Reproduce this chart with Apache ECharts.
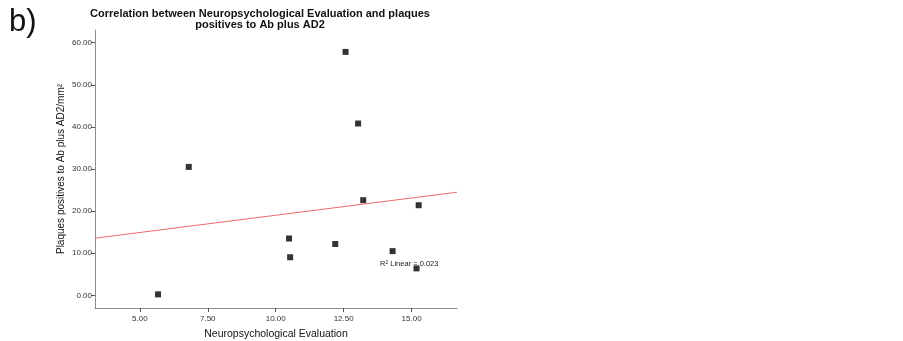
<!DOCTYPE html>
<html>
<head>
<meta charset="utf-8">
<script src="https://cdn.jsdelivr.net/npm/echarts@6/dist/echarts.min.js"></script>
<style>
  html, body { margin: 0; padding: 0; background: #fff; }
  #chart { width: 903px; height: 341px; }
</style>
</head>
<body>
<div id="chart"></div>
<script>
// neuropsychological evaluation score per case
const evalScores = [5.67, 6.80, 12.57, 13.03, 13.22, 15.26, 10.49, 10.53, 12.19, 14.30, 15.18]
// plaques positives to Ab plus AD2 per mm2
const plaques = [0.24, 30.5, 57.8, 40.8, 22.6, 21.4, 13.5, 9.05, 12.2, 10.5, 6.4]
const xTicks = [5, 7.5, 10, 12.5, 15]
const yTicks = [0, 10, 20, 30, 40, 50, 60]
const xRange = [3.35, 16.67]
const yRange = [-3, 63]

// least squares fit line
function fitLine(xs, ys) {
  const n = xs.length
  const mx = xs.reduce((a, b) => a + b, 0) / n
  const my = ys.reduce((a, b) => a + b, 0) / n
  let sxy = 0
  let sxx = 0
  for (let i = 0; i < n; i++) {
    sxy += (xs[i] - mx) * (ys[i] - my)
    sxx += (xs[i] - mx) * (xs[i] - mx)
  }
  const slope = sxy / sxx
  const b = my - slope * mx
  return xRange.map(x => [x, b + slope * x])
}

const chart = echarts.init(document.getElementById('chart'), null, { renderer: 'canvas' })
const font = 'Liberation Sans, Arial, sans-serif'

const axisCommon = {
  axisLine: { show: true, onZero: false, lineStyle: { color: '#8c8c8c', width: 1 } },
  axisTick: { show: true, length: 4, lineStyle: { color: '#555' } },
  splitLine: { show: false },
  axisLabel: {
    color: '#333',
    fontSize: 8,
    fontFamily: font,
    formatter: v => v.toFixed(2)
  }
}

chart.setOption({
  animation: false,
  backgroundColor: '#fff',
  title: {
    text: 'Correlation between Neuropsychological Evaluation and plaques\npositives to Ab plus AD2',
    left: 255,
    top: 3,
    textAlign: 'center',
    textStyle: {
      fontSize: 11,
      fontWeight: 'bold',
      color: '#111',
      lineHeight: 11,
      fontFamily: font
    }
  },
  graphic: [
    {
      type: 'text',
      left: 9,
      top: 7,
      style: { text: 'b)', fontSize: 31, fill: '#111', fontFamily: font }
    },
    {
      type: 'text',
      left: 380,
      top: 260,
      style: {
        rich: {
          a: { fontSize: 7.5, fill: '#222', fontFamily: font },
          s: { fontSize: 5, fill: '#222', verticalAlign: 'top', fontFamily: font }
        },
        text: '{a|R}{s|2}{a| Linear = 0.023}'
      }
    }
  ],
  grid: { left: 95, right: 446, top: 30, bottom: 33, containLabel: false, outerBoundsMode: 'none' },
  xAxis: Object.assign({}, axisCommon, {
    type: 'value',
    min: xRange[0],
    max: xRange[1],
    name: 'Neuropsychological Evaluation',
    nameLocation: 'middle',
    nameGap: 21,
    nameTextStyle: { fontSize: 10.5, color: '#111', fontFamily: font },
    axisTick: Object.assign({}, axisCommon.axisTick, { customValues: xTicks }),
    axisLabel: Object.assign({}, axisCommon.axisLabel, { customValues: xTicks, margin: 7 })
  }),
  yAxis: Object.assign({}, axisCommon, {
    type: 'value',
    min: yRange[0],
    max: yRange[1],
    name: 'Plaques positives to Ab plus AD2/mm²',
    nameLocation: 'middle',
    nameGap: 29,
    nameTextStyle: { fontSize: 10, color: '#111', fontFamily: font },
    axisTick: Object.assign({}, axisCommon.axisTick, { customValues: yTicks }),
    axisLabel: Object.assign({}, axisCommon.axisLabel, { customValues: yTicks, margin: 3 })
  }),
  series: [
    {
      type: 'line',
      data: fitLine(evalScores, plaques),
      symbol: 'none',
      lineStyle: { color: '#f06a6a', width: 1 },
      silent: true
    },
    {
      type: 'scatter',
      data: evalScores.map((x, i) => [x, plaques[i]]),
      symbol: 'rect',
      symbolSize: 6,
      itemStyle: { color: '#000' }
    }
  ]
})
</script>
</body>
</html>
